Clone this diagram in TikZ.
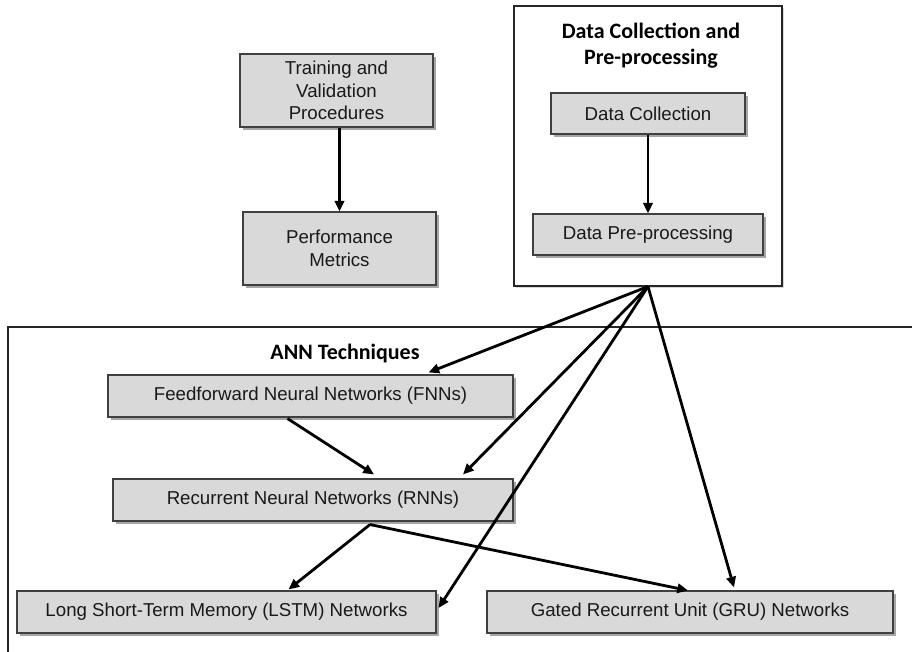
\documentclass[tikz,border=0pt]{standalone}
\usepackage{fontspec}
\setmainfont{Liberation Sans}
\newfontfamily\titlefont{Carlito}
\usetikzlibrary{arrows.meta,shadows,calc}

\tikzset{
  box/.style={draw=black!75, line width=0.8pt, fill=black!15,
    drop shadow={shadow xshift=2pt, shadow yshift=-2pt, fill=black, opacity=0.35},
    align=center, inner sep=2pt, font=\fontsize{14}{17}\selectfont, text=black!90},
  frame/.style={draw=black!85, line width=0.8pt, fill=white,
    drop shadow={shadow xshift=1.5pt, shadow yshift=-1.5pt, fill=black, opacity=0.15}},
  heading/.style={align=center, font=\titlefont\bfseries\fontsize{16.5}{19.5}\selectfont},
  link/.style={line width=2.1pt, -{Triangle[length=8pt,width=7pt]}},
}

\begin{document}
\begin{tikzpicture}[x=0.75pt, y=-0.75pt]
\useasboundingbox (0,0) rectangle (912,651);
\clip (0,0) rectangle (912,651);

% ANN techniques frame (runs past the right and bottom edges)
\node[frame, minimum width=690pt, minimum height=252pt, inner sep=0pt] (annframe) at (468,495) {};
\node[heading] (anntitle) at (345,353) {ANN Techniques};

% data collection frame
\node[frame, minimum width=201pt, minimum height=210pt, inner sep=0pt] (dcframe) at (648,146) {};
\node[heading] (dctitle) at (651,46) {Data Collection and\\ Pre-processing};

% boxes
\node[box, minimum width=144.75pt, minimum height=54.75pt] (train) at (336.5,90.5) {Training and\\Validation\\Procedures};
\node[box, minimum width=144.75pt, minimum height=54.75pt] (perf) at (339.5,248.5) {Performance\\Metrics};
\node[box, minimum width=145.5pt, minimum height=30.75pt] (dc) at (648,113.5) {Data Collection};
\node[box, minimum width=172.5pt, minimum height=30.75pt] (dp) at (648,234.5) {Data Pre-processing};
\node[box, minimum width=303.75pt, minimum height=31.5pt] (fnn) at (310.5,396) {Feedforward Neural Networks (FNNs)};
\node[box, minimum width=300pt, minimum height=31.5pt] (rnn) at (313,500) {Recurrent Neural Networks (RNNs)};
\node[box, minimum width=314.25pt, minimum height=31.5pt] (lstm) at (226.5,612) {Long Short-Term Memory (LSTM) Networks};
\node[box, minimum width=304.5pt, minimum height=31.5pt] (gru) at (690,612) {Gated Recurrent Unit (GRU) Networks};

% connectors
\coordinate (hub) at (dcframe.south);
\coordinate (rnnout) at ($(rnn.south)+(57,3)$);

\draw[link] (perf.north |- train.south) -- (perf.north);
\draw[link] (dc.south) -- (dp.north);
\draw[link] (hub) -- ($(fnn.north)+(118,-2)$);
\draw[link] (hub) -- ($(rnn.north)+(150,-4)$);
\draw[link] (hub) -- ($(lstm.east)+(2,-4)$);
\draw[link] (hub) -- ($(gru.north)+(44,-3)$);
\draw[link] ($(fnn.south)+(-23,1)$) -- ($(rnn.north)+(61,-4)$);
\draw[link] (rnnout) -- ($(lstm.north)+(62,-1)$);
\draw[link] (rnnout) -- ($(gru.north)+(-2,0)$);
\end{tikzpicture}
\end{document}
